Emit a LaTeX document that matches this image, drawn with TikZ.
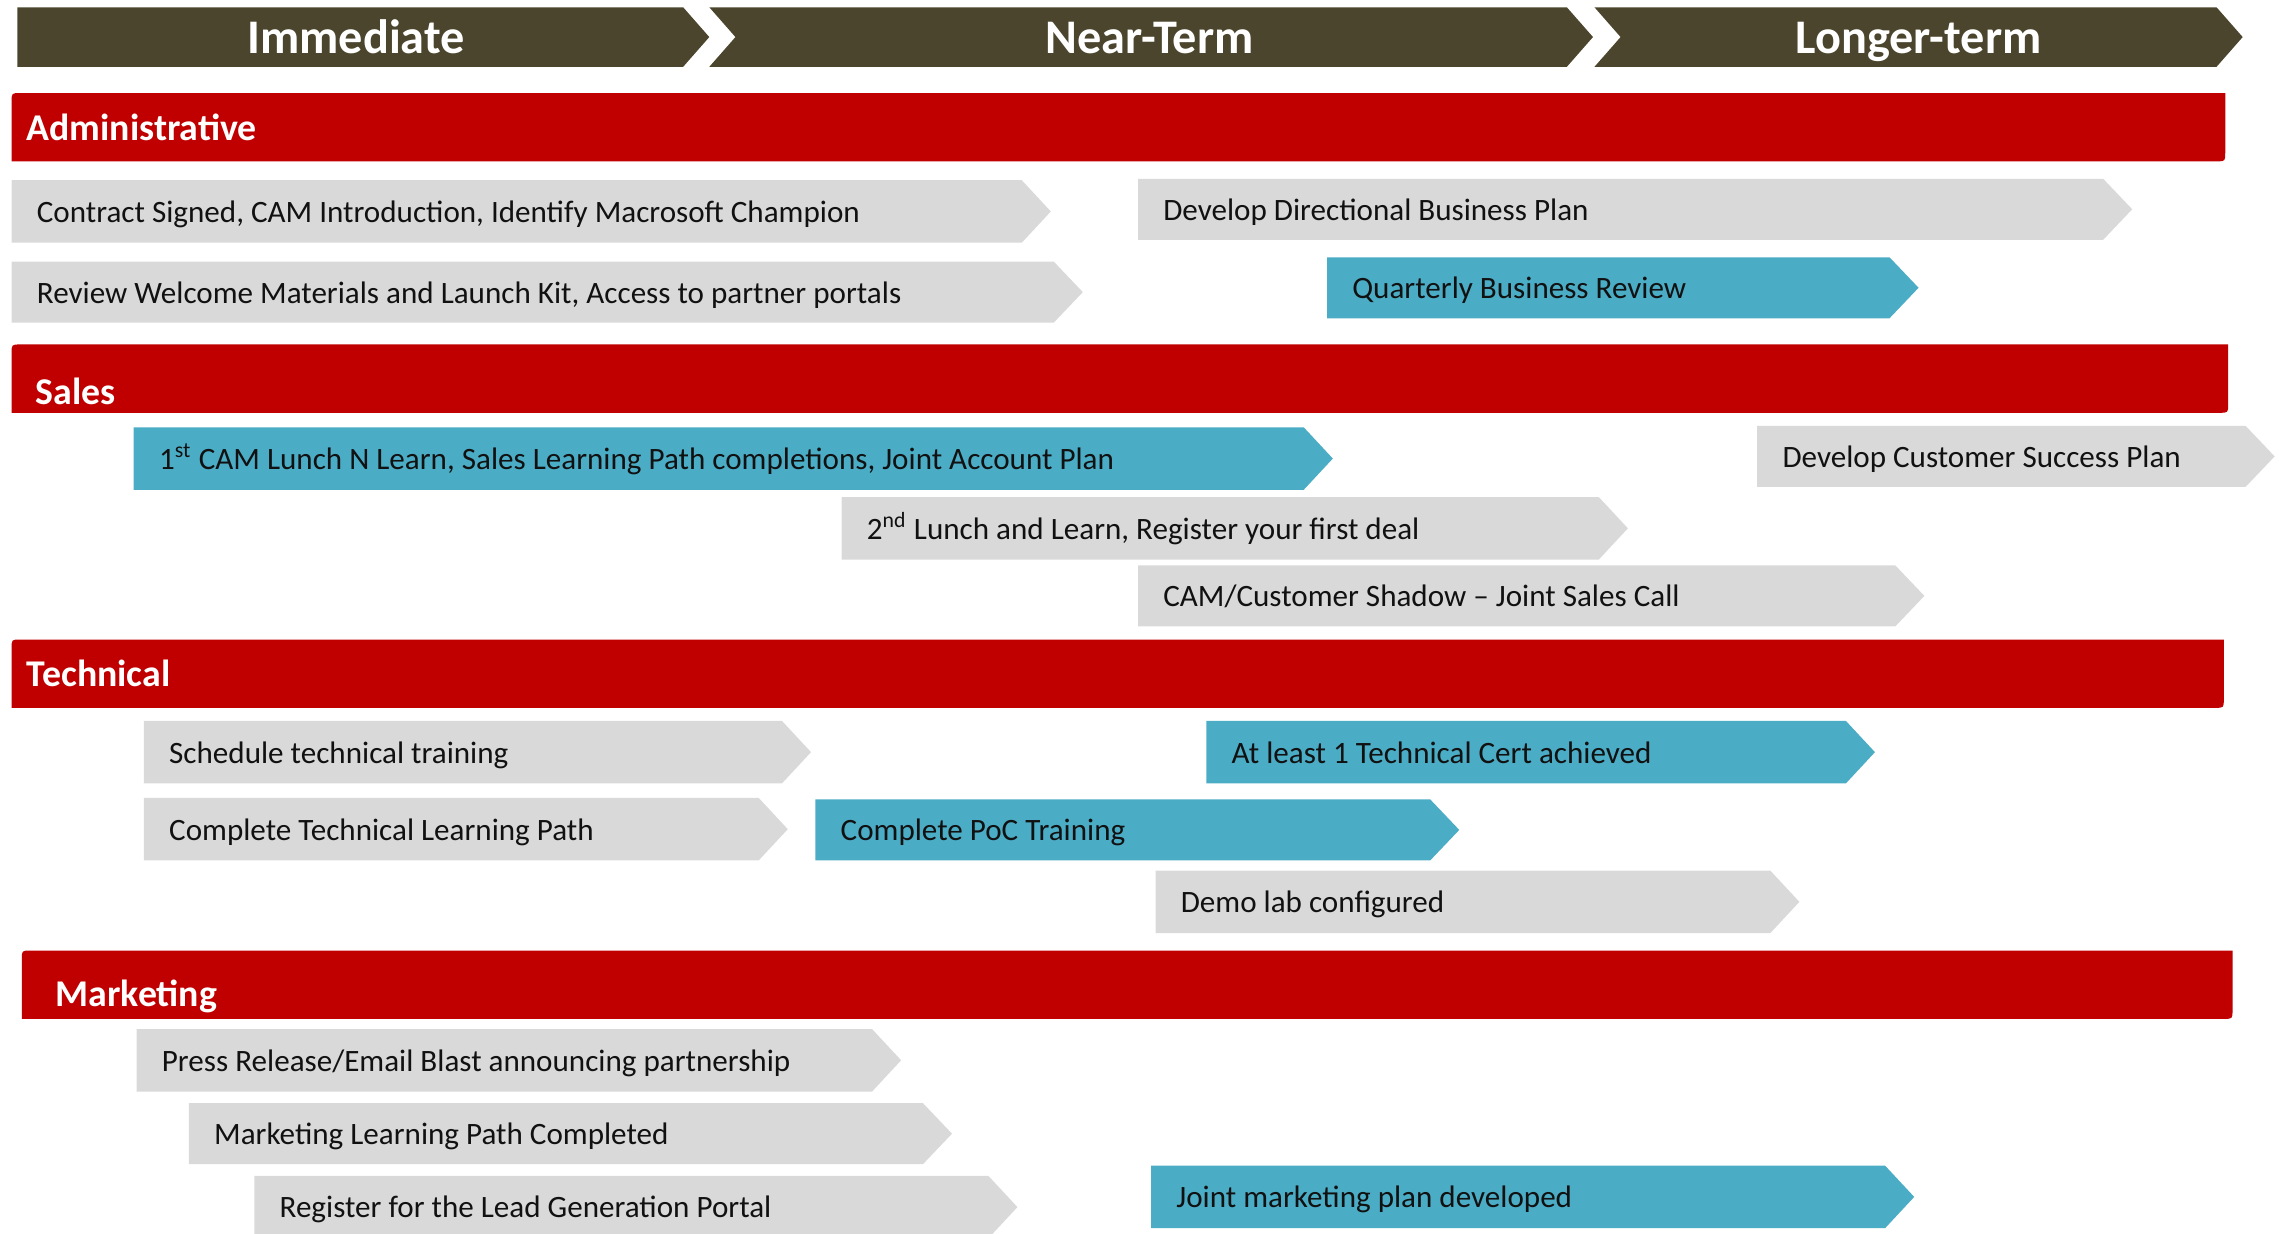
\documentclass[tikz,border=0pt]{standalone}
\usepackage{fontspec}
\setmainfont{Carlito}
\definecolor{hdr}{HTML}{4B452D}
\definecolor{sec}{HTML}{C00000}
\definecolor{gbox}{HTML}{D9D9D9}
\definecolor{bbox}{HTML}{4BACC6}
\definecolor{itxt}{HTML}{111111}
\tikzset{
  itemtext/.style={inner sep=0pt, text=itxt, font=\fontsize{10.7}{12}\selectfont},
  hdrtext/.style={inner sep=0pt, text=white, font=\fontsize{16.6}{20}\selectfont\bfseries},
  sectext/.style={inner sep=0pt, text=white, font=\fontsize{13}{16}\selectfont\bfseries},
}
% #1 name, #2 fill, #3 x left, #4 x flat right, #5 y top, #6 y bottom, #7 text
\newcommand\tagbox[7]{%
  \fill[#2] (#3,#5) -- (#4,#5) -- ({#4+20},{(#5+#6)/2}) -- (#4,#6) -- (#3,#6) -- cycle;
  \node[itemtext, anchor=base west] (#1) at ({#3+17},{(#5+#6)/2+7.5}) {#7};}
% #1 name, #2 x1, #3 x2, #4 y top, #5 y bottom, #6 text x, #7 text baseline y, #8 text
\newcommand\secbar[8]{%
  \fill[sec] (#2,#5) -- (#2,{#4+6}) .. controls (#2,#4) .. ({#2+6},#4) -- (#3,#4)
    -- (#3,{#5-6}) .. controls (#3,#5) .. ({#3-6},#5) -- cycle;
  \node[sectext, anchor=base west] (#1) at (#6,#7) {#8};}
\begin{document}
\begin{tikzpicture}[x=0.5pt, y=-0.5pt]
\useasboundingbox (0,0) rectangle (1568,849);
% header chevrons
\fill[hdr] (12,5) -- (470,5) -- (488,25.5) -- (470,46) -- (12,46) -- cycle;
\node[hdrtext, anchor=base] (h1) at (245,36.5) {Immediate};
\fill[hdr] (488,5) -- (1078,5) -- (1096,25.5) -- (1078,46) -- (488,46) -- (506,25.5) -- cycle;
\node[hdrtext, anchor=base] (h2) at (791,36.5) {Near-Term};
\fill[hdr] (1097,5) -- (1525,5) -- (1543,25.5) -- (1525,46) -- (1097,46) -- (1115,25.5) -- cycle;
\node[hdrtext, anchor=base] (h3) at (1320,36.5) {Longer-term};
% Administrative
\secbar{sadm}{8}{1531}{64}{111}{18}{96.5}{Administrative}
\tagbox{a1}{gbox}{8}{703}{124}{167}{Contract Signed, CAM Introduction, Identify Macrosoft Champion}
\tagbox{a2}{gbox}{8}{725}{180}{222}{Review Welcome Materials and Launch Kit, Access to partner portals}
\tagbox{a3}{gbox}{783}{1447}{123}{165}{Develop Directional Business Plan}
\tagbox{a4}{bbox}{913}{1300}{177}{219}{Quarterly Business Review}
% Sales
\secbar{ssal}{8}{1533}{237}{284}{24}{278.5}{Sales}
\tagbox{s1}{bbox}{92}{897}{294}{337}{1\textsuperscript{st} CAM Lunch N Learn, Sales Learning Path completions, Joint Account Plan}
\tagbox{s2}{gbox}{1209}{1545}{293}{335}{Develop Customer Success Plan}
\tagbox{s3}{gbox}{579}{1100}{342}{385}{2\textsuperscript{nd} Lunch and Learn, Register your first deal}
\tagbox{s4}{gbox}{783}{1304}{389}{431}{CAM/Customer Shadow – Joint Sales Call}
% Technical
\secbar{stec}{8}{1530}{440}{487}{18}{472.5}{Technical}
\tagbox{t1}{gbox}{99}{538}{496}{539}{Schedule technical training}
\tagbox{t2}{bbox}{830}{1270}{496}{539}{At least 1 Technical Cert achieved}
\tagbox{t3}{gbox}{99}{522}{549}{592}{Complete Technical Learning Path}
\tagbox{t4}{bbox}{561}{984}{550}{592}{Complete PoC Training}
\tagbox{t5}{gbox}{795}{1218}{599}{642}{Demo lab configured}
% Marketing
\secbar{smkt}{15}{1536}{654}{701}{38}{692.5}{Marketing}
\tagbox{m1}{gbox}{94}{600}{708}{751}{Press Release/Email Blast announcing partnership}
\tagbox{m2}{gbox}{130}{635}{759}{801}{Marketing Learning Path Completed}
\tagbox{m3}{gbox}{175}{680}{809}{852}{Register for the Lead Generation Portal}
\tagbox{m4}{bbox}{792}{1297}{802}{845}{Joint marketing plan developed}
\end{tikzpicture}
\end{document}
